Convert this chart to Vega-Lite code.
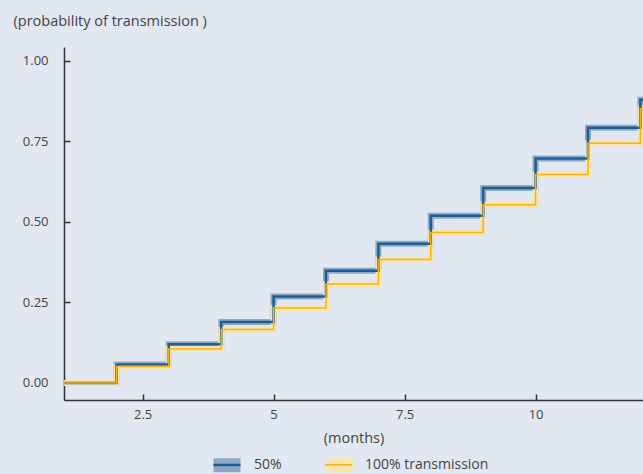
{
  "$schema": "https://vega.github.io/schema/vega-lite/v6.json",
  "width": 579,
  "height": 353,
  "autosize": {"type": "none"},
  "padding": {"left": 64, "top": 47, "right": 0, "bottom": 74},
  "background": "#e1e8f1",
  "config": {
    "view": {"stroke": null},
    "font": "Open Sans",
    "axis": {"grid": false, "domainColor": "#333333", "domainWidth": 1.5, "tickColor": "#333333", "tickWidth": 1.5, "tickSize": -6, "labelColor": "#444444", "labelFontSize": 13, "titleColor": "#444444", "titleFontSize": 14.5, "titleFontWeight": "normal"}
  },
  "data": {
    "values": [
      {"month": 1, "value": 0.0, "series": "50%"},
      {"month": 2, "value": 0.057, "series": "50%"},
      {"month": 3, "value": 0.120, "series": "50%"},
      {"month": 4, "value": 0.189, "series": "50%"},
      {"month": 5, "value": 0.268, "series": "50%"},
      {"month": 6, "value": 0.348, "series": "50%"},
      {"month": 7, "value": 0.432, "series": "50%"},
      {"month": 8, "value": 0.519, "series": "50%"},
      {"month": 9, "value": 0.605, "series": "50%"},
      {"month": 10, "value": 0.697, "series": "50%"},
      {"month": 11, "value": 0.792, "series": "50%"},
      {"month": 12, "value": 0.879, "series": "50%"},
      {"month": 12.2, "value": 0.879, "series": "50%"},
      {"month": 1, "value": 0.0, "series": "100% transmission"},
      {"month": 2, "value": 0.051, "series": "100% transmission"},
      {"month": 3, "value": 0.105, "series": "100% transmission"},
      {"month": 4, "value": 0.166, "series": "100% transmission"},
      {"month": 5, "value": 0.233, "series": "100% transmission"},
      {"month": 6, "value": 0.307, "series": "100% transmission"},
      {"month": 7, "value": 0.383, "series": "100% transmission"},
      {"month": 8, "value": 0.467, "series": "100% transmission"},
      {"month": 9, "value": 0.553, "series": "100% transmission"},
      {"month": 10, "value": 0.647, "series": "100% transmission"},
      {"month": 11, "value": 0.744, "series": "100% transmission"},
      {"month": 12, "value": 0.851, "series": "100% transmission"},
      {"month": 12.2, "value": 0.851, "series": "100% transmission"}
    ]
  },
  "encoding": {
    "x": {"field": "month", "type": "quantitative", "scale": {"domain": [1, 12.05], "nice": false, "zero": false},
      "axis": {"values": [2.5, 5, 7.5, 10], "title": "(months)", "labelPadding": 14, "titlePadding": 10, "format": "~g"}},
    "y": {"field": "value", "type": "quantitative", "scale": {"domain": [-0.053, 1.043], "nice": false, "zero": false},
      "axis": {"values": [0, 0.25, 0.5, 0.75, 1], "format": ".2f", "title": "(probability of transmission )", "titleAngle": 0, "titleAlign": "left", "titleBaseline": "middle", "titleX": -51, "titleY": -26, "labelPadding": 22}}
  },
  "layer": [
    {
      "mark": {"type": "line", "interpolate": "step-after", "strokeWidth": 6, "clip": true},
      "encoding": {
        "color": {"field": "series", "type": "nominal", "sort": ["50%", "100% transmission"],
          "scale": {"range": ["#8ea8c8", "#f9e4ae"]},
          "legend": {"orient": "none", "legendX": 142.5, "legendY": 397.5, "zindex": 0, "direction": "horizontal", "title": null, "symbolType": "stroke", "symbolSize": 729, "symbolStrokeWidth": 14, "labelExpr": "''", "labelFontSize": 14, "labelOffset": 12, "columnPadding": 30}
        },
        "detail": {"field": "series"}
      }
    },
    {
      "mark": {"type": "line", "interpolate": "step-after", "clip": true},
      "encoding": {
        "stroke": {"field": "series", "type": "nominal", "sort": ["50%", "100% transmission"],
          "scale": {"domain": ["50%", "100% transmission"], "range": ["#1f5f8f", "#f2b31b"]},
          "legend": {"orient": "none", "legendX": 148, "legendY": 403, "zindex": 1, "direction": "horizontal", "title": null, "symbolType": "stroke", "symbolSize": 729, "symbolStrokeWidth": 3, "labelColor": "#444444", "labelFontSize": 14, "labelOffset": 12, "columnPadding": 40}
        },
        "strokeWidth": {"field": "series", "type": "nominal", "scale": {"domain": ["50%", "100% transmission"], "range": [2.5, 1.5]}, "legend": null}
      }
    }
  ]
}
